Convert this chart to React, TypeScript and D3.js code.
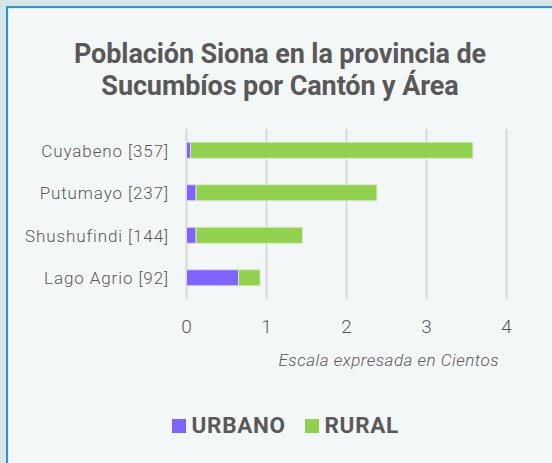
import React from "react";
import * as d3 from "d3";

const categories = ["Cuyabeno [357]", "Putumayo [237]", "Shushufindi [144]", "Lago Agrio [92]"];
const urbano = [0.05, 0.12, 0.12, 0.65];
const rural = [3.53, 2.26, 1.33, 0.27];
const xTicks = [0, 1, 2, 3, 4];
const seriesNames = ["URBANO", "RURAL"];
const seriesColors = ["#7f63fd", "#92d050"];
const titleLines = ["Población Siona en la provincia de", "Sucumbíos por Cantón y Área"];
const axisTitle = "Escala expresada en Cientos";

const W = 552;
const H = 463;
const FONT = "Roboto, 'Liberation Sans', sans-serif";
const TXT = "#595959";

export default function App() {
  const x = d3.scaleLinear().domain([0, 4]).range([186.5, 506.5]);
  const y = d3.scaleBand<string>().domain(categories).range([129, 299]).paddingInner(0.624).paddingOuter(0.312);
  const bh = y.bandwidth();

  return (
    <svg width={W} height={H} style={{ position: "absolute", left: 0, top: 0 }}>
      <rect x={0} y={0} width={W} height={H} fill="#d6e5e5" />
      <rect x={6} y={6} width={W} height={H} fill="#2b92d8" />
      <rect x={8} y={8} width={W} height={H} fill="#e6ecee" />
      <rect x={9} y={9} width={W} height={H} fill="#f4f7f8" />

      {titleLines.map((t, i) => (
        <text key={i} x={280} y={62.5 + i * 32.5} textAnchor="middle" fontFamily={FONT} fontWeight={700}
          fontSize={27} fill={TXT} letterSpacing={-0.1}>{t}</text>
      ))}

      {xTicks.map((t) => (
        <line key={"g" + t} x1={x(t)} x2={x(t)} y1={129} y2={299} stroke="#d9d9d9" strokeWidth={2} />
      ))}

      {categories.map((c, i) => {
        const y0 = y(c)!;
        return (
          <g key={c}>
            <rect x={x(0)} y={y0} width={x(urbano[i]) - x(0)} height={bh} fill={seriesColors[0]}
              stroke="#dcd6f7" strokeWidth={1} />
            <rect x={x(urbano[i])} y={y0} width={x(urbano[i] + rural[i]) - x(urbano[i])} height={bh}
              fill={seriesColors[1]} stroke="#d4e9bf" strokeWidth={1} />
            <text x={169} y={y0 + bh / 2 + 6.5} textAnchor="end" fontFamily={FONT} fontSize={17}
              fontWeight={300} fill={TXT} letterSpacing={0.9}>{c}</text>
          </g>
        );
      })}

      {xTicks.map((t) => (
        <text key={"t" + t} x={x(t)} y={333} textAnchor="middle" fontFamily={FONT} fontSize={19}
          fontWeight={300} fill={TXT}>{t}</text>
      ))}

      <text x={499} y={365.5} textAnchor="end" fontFamily={FONT} fontStyle="italic" fontSize={17}
        fontWeight={300} fill={TXT} letterSpacing={0.5}>{axisTitle}</text>

      {seriesNames.map((s, i) => {
        const lx = [172, 305][i];
        return (
          <g key={s}>
            <rect x={lx} y={419} width={14} height={14} fill={seriesColors[i]} />
            <text x={lx + 19.5} y={433} fontFamily={FONT} fontWeight={700} fontSize={22.5} fill={TXT}
              letterSpacing={0.7}>{s}</text>
          </g>
        );
      })}
    </svg>
  );
}
